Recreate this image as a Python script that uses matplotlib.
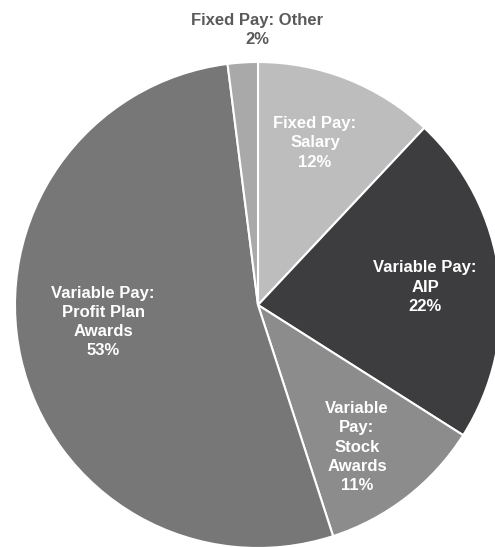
import matplotlib.pyplot as plt

plt.rcParams["font.family"] = ["Liberation Sans", "DejaVu Sans"]

# data
categories = [
    "Fixed Pay:\nSalary",
    "Variable Pay:\nAIP",
    "Variable\nPay:\nStock\nAwards",
    "Variable Pay:\nProfit Plan\nAwards",
    "Fixed Pay: Other",
]
shares = [12, 22, 11, 53, 2]

colors = ["#bdbdbd", "#3d3d3f", "#8c8c8c", "#777777", "#a9a9a9"]
# label anchor points in pixel coords (x, y from top)
label_pos = [(315, 143), (425, 287), (357, 447), (103, 322), (257, 30)]
label_colors = ["white", "white", "white", "white", "#5a5a5a"]

W, H = 495, 547
fig = plt.figure(figsize=(W / 100, H / 100), dpi=100)
ax = fig.add_axes([0, 0, 1, 1])

cx, cy, r = 258, H - 305, 243
ax.pie(
    shares,
    colors=colors,
    startangle=90,
    counterclock=False,
    center=(cx, cy),
    radius=r,
    frame=True,
    wedgeprops=dict(edgecolor="white", linewidth=1.5),
)
ax.set_xlim(0, W)
ax.set_ylim(0, H)
ax.set_aspect("equal")
ax.axis("off")

for cat, val, (x, y), c in zip(categories, shares, label_pos, label_colors):
    ax.text(x, H - y, f"{cat}\n{val}%", ha="center", va="center",
            color=c, fontsize=12, fontweight="bold", linespacing=1.35)

fig.savefig("out.png", dpi=100)
